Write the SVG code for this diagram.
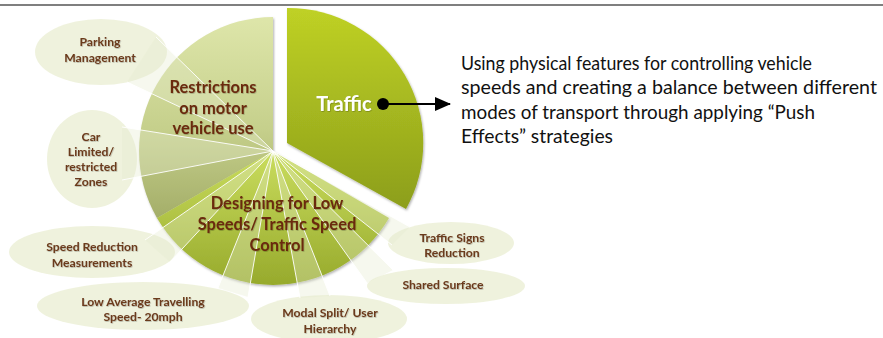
<svg xmlns="http://www.w3.org/2000/svg" width="883" height="338" viewBox="0 0 883 338">
<style>
.lbl{font-family:Lato,"Open Sans","Liberation Sans",sans-serif;font-weight:bold;font-size:12.2px;fill:#6b3a1c;text-anchor:middle;filter:url(#ts)}
.big{font-family:Lato,"Open Sans","Liberation Sans",sans-serif;font-weight:bold;font-size:16.5px;fill:#6a2a0e;text-anchor:middle;filter:url(#ts)}
.bub{fill:#edf1d9;fill-opacity:0.9}
.tail{fill:#e6ecce;fill-opacity:0.35;stroke:none}
.ray{stroke:#ffffff;stroke-width:1;fill:none;opacity:0.9}
.desc{font-family:Lato,"Open Sans","Liberation Sans",sans-serif;font-size:18.8px;fill:#111111}
</style>
<defs>
<linearGradient id="gR" gradientUnits="userSpaceOnUse" x1="0" y1="17" x2="0" y2="218">
<stop offset="0" stop-color="#dee6aa"/><stop offset="0.55" stop-color="#c6d08c"/><stop offset="1" stop-color="#a4ae69"/>
</linearGradient>
<linearGradient id="gD" gradientUnits="userSpaceOnUse" x1="0" y1="151" x2="0" y2="285">
<stop offset="0" stop-color="#cadd5e"/><stop offset="1" stop-color="#97aa2c"/>
</linearGradient>
<linearGradient id="gT" gradientUnits="userSpaceOnUse" x1="0" y1="8" x2="0" y2="210">
<stop offset="0" stop-color="#bfd125"/><stop offset="1" stop-color="#8c9e1b"/>
</linearGradient>
<filter id="sh" x="-10%" y="-10%" width="120%" height="120%">
<feDropShadow dx="1" dy="1.5" stdDeviation="1.2" flood-color="#000" flood-opacity="0.3"/>
</filter>
<filter id="ts" x="-5%" y="-20%" width="110%" height="140%">
<feDropShadow dx="0.6" dy="0.8" stdDeviation="0.4" flood-color="#000" flood-opacity="0.25"/>
</filter>
<marker id="ah" markerWidth="16" markerHeight="14" refX="15" refY="7" orient="auto" markerUnits="userSpaceOnUse" viewBox="0 0 16 14">
<path d="M0,0 L16,7 L0,14 Z" fill="#000"/>
</marker>
</defs>
<rect width="883" height="338" fill="#ffffff"/>
<line x1="0" y1="5" x2="883" y2="5" stroke="#7f7f7f" stroke-width="2"/>

<g id="slice-restrictions">
<path d="M273,151 L157,218 A134,134 0 0 1 273,17 Z" fill="url(#gR)" filter="url(#sh)"/>
</g>
<g id="slice-designing">
<path d="M273,151 L389,218 A134,134 0 0 1 157,218 Z" fill="url(#gD)" filter="url(#sh)"/>
</g>
<g id="slice-traffic">
<path d="M287,143 L287,8 A135,135 0 0 1 406,209 Z" fill="url(#gT)" filter="url(#sh)"/>
</g>

<g id="bubble-parking">
<ellipse class="bub" cx="101" cy="52" rx="66" ry="33"/>
<text class="lbl" x="100" y="46">Parking</text>
<text class="lbl" x="100" y="62">Management</text>
</g>
<g id="bubble-car">
<ellipse class="bub" cx="92" cy="159" rx="45" ry="49"/>
<text class="lbl" x="91" y="141">Car</text>
<text class="lbl" x="91" y="156">Limited/</text>
<text class="lbl" x="91" y="171">restricted</text>
<text class="lbl" x="91" y="186">Zones</text>
</g>
<g id="bubble-speedred">
<ellipse class="bub" cx="92" cy="252" rx="83" ry="26"/>
<text class="lbl" x="92" y="251">Speed Reduction</text>
<text class="lbl" x="92" y="267">Measurements</text>
</g>
<g id="bubble-lowavg">
<ellipse class="bub" cx="143" cy="306" rx="106" ry="24"/>
<text class="lbl" x="143" y="306">Low Average Travelling</text>
<text class="lbl" x="143" y="321">Speed- 20mph</text>
</g>
<g id="bubble-modal">
<ellipse class="bub" cx="329" cy="319" rx="78" ry="24"/>
<text class="lbl" x="330" y="317">Modal Split/ User</text>
<text class="lbl" x="330" y="333">Hierarchy</text>
</g>
<g id="bubble-shared">
<ellipse class="bub" cx="446" cy="286" rx="79" ry="18"/>
<text class="lbl" x="443" y="289">Shared Surface</text>
</g>
<g id="bubble-signs">
<ellipse class="bub" cx="451" cy="243" rx="63" ry="21"/>
<text class="lbl" x="452" y="242">Traffic Signs</text>
<text class="lbl" x="452" y="257">Reduction</text>
</g>

<g id="connectors">
<polygon class="tail" points="273,151 156,37 127,82"/>
<polygon class="tail" points="273,151 122,127 122,180"/>
<polygon class="tail" points="273,151 145,240 170,262"/>
<polygon class="tail" points="273,151 218,288 248,297"/>
<polygon class="tail" points="273,151 300,298 330,296"/>
<polygon class="tail" points="273,151 367,283 393,270"/>
<polygon class="tail" points="273,151 392,245 410,227"/>
<path class="ray" d="M273,151 L156,37 M273,151 L127,82 M273,151 L122,127 M273,151 L122,180 M273,151 L145,240 M273,151 L170,262 M273,151 L218,288 M273,151 L248,297 M273,151 L300,298 M273,151 L330,296 M273,151 L367,283 M273,151 L393,270 M273,151 L392,245 M273,151 L410,227"/>
<circle cx="383" cy="104" r="6" fill="#000"/>
<line x1="383" y1="104" x2="450" y2="104" stroke="#000" stroke-width="2" marker-end="url(#ah)"/>
</g>

<g id="labels-slices">
<text class="big" x="213" y="93">Restrictions</text>
<text class="big" x="213" y="114">on motor</text>
<text class="big" x="213" y="134">vehicle use</text>
<text class="big" x="277" y="209">Designing for Low</text>
<text class="big" x="277" y="230">Speeds/ Traffic Speed</text>
<text class="big" x="277" y="251">Control</text>
<text x="344" y="111" font-family="Lato,'Open Sans','Liberation Sans',sans-serif" font-weight="bold" font-size="20px" fill="#ffffff" text-anchor="middle" filter="url(#ts)">Traffic</text>
</g>

<g id="description">
<text class="desc" x="461" y="70" textLength="351" lengthAdjust="spacingAndGlyphs">Using physical features for controlling vehicle</text>
<text class="desc" x="461" y="94" textLength="416" lengthAdjust="spacingAndGlyphs">speeds and creating a balance between different</text>
<text class="desc" x="461" y="119" textLength="354" lengthAdjust="spacingAndGlyphs">modes of transport through applying “Push</text>
<text class="desc" x="461" y="143" textLength="152" lengthAdjust="spacingAndGlyphs">Effects” strategies</text>
</g>
</svg>
